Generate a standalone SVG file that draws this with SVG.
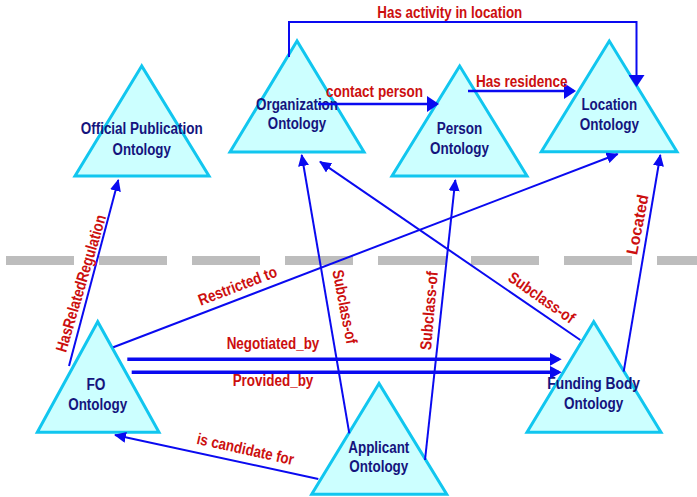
<svg xmlns="http://www.w3.org/2000/svg" width="697" height="497" viewBox="0 0 697 497">
  <style>
    .tri { fill: #ccffff; stroke: #11c6ef; stroke-width: 3; stroke-linejoin: miter; }
    .nt { font-family: "Liberation Sans", Arial, sans-serif; font-weight: bold; font-size: 16px; fill: #14147d; text-anchor: middle; }
    .lb { font-family: "Liberation Sans", Arial, sans-serif; font-weight: bold; font-size: 16px; fill: #cc0f0f; text-anchor: middle; }
    .ln { fill: none; stroke: #0a0af0; stroke-width: 2; }
    .thick { stroke-width: 3.5; }
    .mid { stroke-width: 2.7; }
    .sep { stroke: #bdbdbd; stroke-width: 9; stroke-dasharray: 68 25; }
  </style>
  <defs>
    <marker id="arr" markerUnits="userSpaceOnUse" markerWidth="12" markerHeight="11" refX="11" refY="5.5" orient="auto">
      <path d="M0,0 L12,5.5 L0,11 z" fill="#0a0af0"/>
    </marker>
    <marker id="arrWide" markerUnits="userSpaceOnUse" markerWidth="12" markerHeight="16" refX="10" refY="8" orient="auto">
      <path d="M0,0 L12,8 L0,16 z" fill="#0a0af0"/>
    </marker>
    <marker id="arrThick" markerUnits="userSpaceOnUse" markerWidth="12" markerHeight="13" refX="9" refY="6.5" orient="auto">
      <path d="M0,0 L12,6.5 L0,13 z" fill="#0a0af0"/>
    </marker>
  </defs>

  <rect width="697" height="497" fill="#ffffff"/>

  <!-- dashed separator -->
  <line class="sep" x1="6" y1="260.5" x2="697" y2="260.5"/>

  <!-- ontology nodes -->
  <g id="official-publication">
    <polygon class="tri" points="141.7,66 75,176 209,176"/>
    <text class="nt" x="141.7" y="134" textLength="122" lengthAdjust="spacingAndGlyphs">Official Publication</text>
    <text class="nt" x="141.7" y="154.5" textLength="58.3" lengthAdjust="spacingAndGlyphs">Ontology</text>
  </g>
  <g id="organization">
    <polygon class="tri" points="297,41 230,152 364,152"/>
    <text class="nt" x="297" y="110" textLength="82" lengthAdjust="spacingAndGlyphs">Organization</text>
    <text class="nt" x="297" y="129.3" textLength="58.3" lengthAdjust="spacingAndGlyphs">Ontology</text>
  </g>
  <g id="person">
    <polygon class="tri" points="459.7,66 392,176 527,176"/>
    <text class="nt" x="459.5" y="134" textLength="45.7" lengthAdjust="spacingAndGlyphs">Person</text>
    <text class="nt" x="459.5" y="154" textLength="59" lengthAdjust="spacingAndGlyphs">Ontology</text>
  </g>
  <g id="location">
    <polygon class="tri" points="609.3,41 541.3,151.7 677,151.7"/>
    <text class="nt" x="609.3" y="109.5" textLength="55.7" lengthAdjust="spacingAndGlyphs">Location</text>
    <text class="nt" x="609.3" y="129.5" textLength="59.3" lengthAdjust="spacingAndGlyphs">Ontology</text>
  </g>
  <g id="fo">
    <polygon class="tri" points="97.7,321.7 37.3,432.3 159,432.3"/>
    <text class="nt" x="96" y="390" textLength="19" lengthAdjust="spacingAndGlyphs">FO</text>
    <text class="nt" x="97.7" y="410" textLength="59" lengthAdjust="spacingAndGlyphs">Ontology</text>
  </g>
  <g id="funding-body">
    <polygon class="tri" points="593.7,321.7 527,432.3 661,432.3"/>
    <text class="nt" x="593.7" y="389" textLength="92.7" lengthAdjust="spacingAndGlyphs">Funding Body</text>
    <text class="nt" x="593.7" y="409.3" textLength="59.3" lengthAdjust="spacingAndGlyphs">Ontology</text>
  </g>
  <g id="applicant">
    <polygon class="tri" points="379,383.5 311.7,494.3 446.7,494.3"/>
    <text class="nt" x="378.8" y="452.7" textLength="61" lengthAdjust="spacingAndGlyphs">Applicant</text>
    <text class="nt" x="378.8" y="472.3" textLength="59" lengthAdjust="spacingAndGlyphs">Ontology</text>
  </g>

  <!-- relations -->
  <g id="connectors">
    <path class="ln" d="M289,57 V22 H636.5 V85" marker-end="url(#arrWide)"/>
    <path class="ln mid" d="M318,104 H437" marker-end="url(#arrWide)"/>
    <path class="ln mid" d="M468,91 H574" marker-end="url(#arrWide)"/>
    <path class="ln" d="M69,366 L118.3,180" marker-end="url(#arr)"/>
    <path class="ln" d="M113.3,347.3 L617.7,154" marker-end="url(#arr)"/>
    <path class="ln" d="M623.7,371.7 L660.3,155" marker-end="url(#arr)"/>
    <path class="ln" d="M349.3,433.3 L301.7,155" marker-end="url(#arr)"/>
    <path class="ln" d="M425,460 L455.3,180" marker-end="url(#arr)"/>
    <path class="ln" d="M580.3,340 L320,161.7" marker-end="url(#arr)"/>
    <path class="ln thick" d="M127.3,359.3 H558.7" marker-end="url(#arrThick)"/>
    <path class="ln thick" d="M131.7,372.3 H558.7" marker-end="url(#arrThick)"/>
    <path class="ln" d="M318.3,479 L115,435" marker-end="url(#arr)"/>

    <text class="lb" x="449.8" y="18.3" textLength="145" lengthAdjust="spacingAndGlyphs">Has activity in location</text>
    <text class="lb" x="374.5" y="97" textLength="97" lengthAdjust="spacingAndGlyphs">contact person</text>
    <text class="lb" x="521.8" y="87.3" textLength="91.7" lengthAdjust="spacingAndGlyphs">Has residence</text>
    <text class="lb" x="273" y="349" textLength="92.7" lengthAdjust="spacingAndGlyphs">Negotiated_by</text>
    <text class="lb" x="273" y="386" textLength="80.7" lengthAdjust="spacingAndGlyphs">Provided_by</text>
    <text class="lb" transform="translate(80.8,283.3) rotate(-73.5)" x="0" y="5.5" textLength="142" lengthAdjust="spacingAndGlyphs">HasRelatedRegulation</text>
    <text class="lb" transform="translate(237.5,285.8) rotate(-21)" x="0" y="5.5" textLength="83" lengthAdjust="spacingAndGlyphs">Restricted to</text>
    <text class="lb" transform="translate(344.8,306.7) rotate(79)" x="0" y="5.5" textLength="75" lengthAdjust="spacingAndGlyphs">Subclass-of</text>
    <text class="lb" transform="translate(429,310.7) rotate(-85)" x="0" y="5.5" textLength="79" lengthAdjust="spacingAndGlyphs">Subclass-of</text>
    <text class="lb" transform="translate(541.7,297.5) rotate(35)" x="0" y="5.5" textLength="77" lengthAdjust="spacingAndGlyphs">Subclass-of</text>
    <text class="lb" transform="translate(637.5,224.5) rotate(-79)" x="0" y="5.5" textLength="61" lengthAdjust="spacingAndGlyphs">Located</text>
    <text class="lb" transform="translate(245.5,449) rotate(12.5)" x="0" y="5.5" textLength="99" lengthAdjust="spacingAndGlyphs">is candidate for</text>
  </g>
</svg>
